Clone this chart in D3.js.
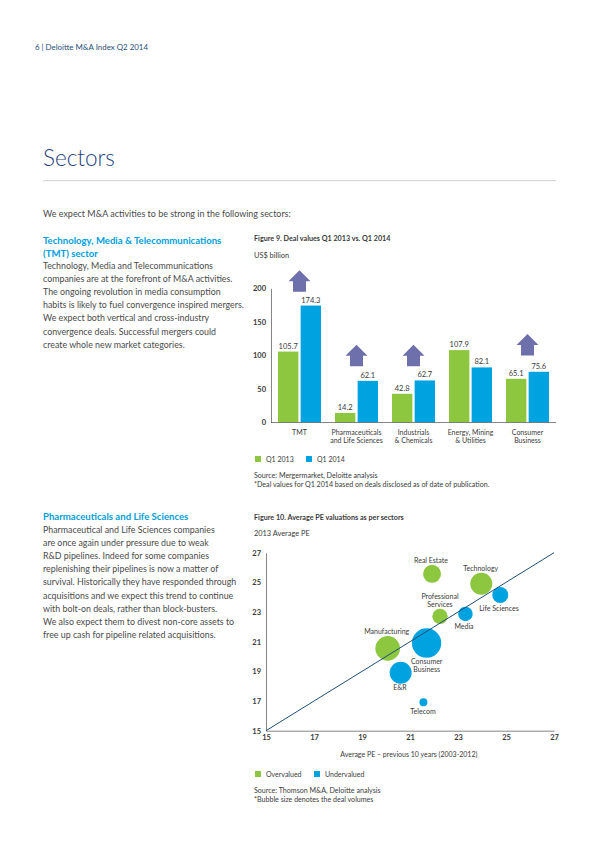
<!DOCTYPE html>
<html><head><meta charset="utf-8">
<script src="https://cdn.jsdelivr.net/npm/d3@7"></script>
<style>html,body{margin:0;padding:0;background:#fff}svg{display:block}text{font-family:Lato,sans-serif}</style>
</head><body><svg id="c" width="600" height="848"></svg>
<script>
const GREEN="#8dc63f",BLUE="#00a3e0",ARROW="#6e70ab",TXT="#3a3a3a",BODY="#4a4a4a",HEAD="#00a0dc",NAVY="#1f4e79";
const categories=[["TMT"],["Pharmaceuticals","and Life Sciences"],["Industrials","& Chemicals"],["Energy, Mining","& Utilities"],["Consumer","Business"]];
const q12013=[105.7,14.2,42.8,107.9,65.1];
const q12014=[174.3,62.1,62.7,82.1,75.6];
const arrowBase=[195,84,84,null,100];
const barTicks=[0,50,100,150,200];
const sectors=["Real Estate","Technology","Life Sciences","Professional Services","Media","Manufacturing","Consumer Business","E&R","Telecom"];
const avgPrev=[21.92,23.97,24.76,22.25,23.31,20.07,21.69,20.61,21.56];
const avg2013=[25.58,24.91,24.15,22.71,22.87,20.55,20.91,18.91,16.91];
const volume=[81,121,64,59,53,151,216,121,16];
const overvalued=[1,1,0,1,0,1,0,0,0];
const peTicks=[15,17,19,21,23,25,27];
const labelLines=[["Real Estate"],["Technology"],["Life Sciences"],["Professional","Services"],["Media"],["Manufacturing"],["Consumer","Business"],["E&R"],["Telecom"]];
const labelAt=[[431,562.5],[480.7,571],[499,610.7],[440,598.5],[464,629],[386.7,633.7],[426.7,664],[400,690],[423,713.7]];

const svg=d3.select("#c");
function T(x,y,s,o={}){return svg.append("text").attr("x",x).attr("y",y).text(s)
 .attr("font-size",o.size||8).attr("fill",o.fill||TXT).attr("font-weight",o.weight||400).attr("text-anchor",o.anchor||"start");}
function para(x,y,lh,lines,o){lines.forEach((l,i)=>T(x,y+i*lh,l,o));}

T(35,49.5,"6 | Deloitte M&A Index Q2 2014",{size:7.9,fill:NAVY});
T(43,166,"Sectors",{size:22.5,fill:"#1f3f7f",weight:300});
svg.append("line").attr("x1",43).attr("x2",556).attr("y1",180.7).attr("y2",180.7).attr("stroke","#bbb").attr("stroke-width",.7);
T(43,216.8,"We expect M&A activities to be strong in the following sectors:",{size:8.95,fill:BODY});
para(43,243.5,13,["Technology, Media & Telecommunications","(TMT) sector"],{size:9.6,fill:HEAD,weight:700});
para(43,269,13.1,["Technology, Media and Telecommunications","companies are at the forefront of M&A activities.","The ongoing revolution in media consumption","habits is likely to fuel convergence inspired mergers.","We expect both vertical and cross-industry","convergence deals. Successful mergers could","create whole new market categories."],{size:8.85,fill:BODY});
T(43,520,"Pharmaceuticals and Life Sciences",{size:9.6,fill:HEAD,weight:700});
para(43,533,13.1,["Pharmaceutical and Life Sciences companies","are once again under pressure due to weak","R&D pipelines. Indeed for some companies","replenishing their pipelines is now a matter of","survival. Historically they have responded through","acquisitions and we expect this trend to continue","with bolt-on deals, rather than block-busters.","We also expect them to divest non-core assets to","free up cash for pipeline related acquisitions."],{size:8.85,fill:BODY});

// Figure 9
T(254,241,"Figure 9. Deal values Q1 2013 vs. Q1 2014",{size:7.2,weight:700});
T(254,258,"US$ billion",{size:7.4});
const x0=d3.scaleBand().domain(d3.range(categories.length)).range([271,556]);
const xIn=d3.scaleBand().domain([0,1]).range([-21.5,21.5]).paddingInner(0.1);
const y9=d3.scaleLinear().domain([0,200]).range([422.5,288.3]);
const g9=svg.append("g");
[[q12013,GREEN,0],[q12014,BLUE,1]].forEach(([vals,col,k])=>{
 g9.selectAll(null).data(vals).join("rect")
  .attr("x",(d,i)=>x0(i)+x0.bandwidth()/2+xIn(k)).attr("width",xIn.bandwidth())
  .attr("y",d=>y9(d)).attr("height",d=>y9(0)-y9(d)).attr("fill",col);
 g9.selectAll(null).data(vals).join("text")
  .attr("x",(d,i)=>x0(i)+x0.bandwidth()/2+xIn(k)+xIn.bandwidth()/2).attr("y",d=>y9(d)-3)
  .attr("text-anchor","middle").attr("font-size",7.5).attr("fill",TXT).text(d=>d.toFixed(1));
});
const ax9=svg.append("g").attr("transform","translate(271,0)").call(d3.axisLeft(y9).tickValues(barTicks).tickSize(0).tickPadding(5));
ax9.selectAll("text").attr("font-size",7.5).attr("fill",TXT).attr("font-weight",700);
ax9.select(".domain").attr("stroke","#666").attr("stroke-width",.8);
svg.append("line").attr("x1",x0.range()[0]).attr("x2",x0.range()[1]).attr("y1",y9(0)).attr("y2",y9(0)).attr("stroke","#666").attr("stroke-width",.8);
categories.forEach((ls,i)=>ls.forEach((l,j)=>T(x0(i)+x0.bandwidth()/2,y9(0)+12+j*8.4,l,{size:7,anchor:"middle"})));
const aw=11,ah=21.5,head=11,sh=6.5;
arrowBase.forEach((b,i)=>{ if(b==null)return;
 const cx=x0(i)+x0.bandwidth()/2,by=y9(b);
 svg.append("polygon").attr("fill",ARROW).attr("points",[[cx-sh,by],[cx-sh,by-ah+head],[cx-aw,by-ah+head],[cx,by-ah],[cx+aw,by-ah+head],[cx+sh,by-ah+head],[cx+sh,by]].join(" "));
});
function legend(y,items){items.forEach(([name,col,x])=>{
 svg.append("rect").attr("x",x).attr("y",y-6).attr("width",6).attr("height",6).attr("fill",col);
 T(x+11,y,name,{size:7});});}
legend(462,[["Q1 2013",GREEN,255],["Q1 2014",BLUE,306]]);
para(254,478,8.6,["Source: Mergermarket, Deloitte analysis","*Deal values for Q1 2014 based on deals disclosed as of date of publication."],{size:7.1});

// Figure 10
T(254,520,"Figure 10. Average PE valuations as per sectors",{size:7.2,weight:700});
T(254,536,"2013 Average PE",{size:7.4});
const xs=d3.scaleLinear().domain([15,27]).range([266,554]);
const ys=d3.scaleLinear().domain([15,27]).range([730.7,552.7]);
const rs=d3.scaleSqrt().domain([0,216]).range([0,14.7]);
const axY=svg.append("g").attr("transform","translate(266,0)").call(d3.axisLeft(ys).tickValues(peTicks).tickSize(0).tickPadding(5));
axY.selectAll("text").attr("font-size",7.5).attr("fill",TXT).attr("font-weight",700);
axY.select(".domain").attr("stroke","#666").attr("stroke-width",.8);
const axX=svg.append("g").attr("transform","translate(0,730.7)").call(d3.axisBottom(xs).tickValues(peTicks).tickSize(0).tickPadding(4));
axX.selectAll("text").attr("font-size",7.5).attr("fill",TXT).attr("font-weight",700);
axX.select(".domain").attr("stroke","#666").attr("stroke-width",.8);
svg.selectAll(null).data(sectors).join("circle")
 .attr("cx",(d,i)=>xs(avgPrev[i])).attr("cy",(d,i)=>ys(avg2013[i])).attr("r",(d,i)=>rs(volume[i]))
 .attr("fill",(d,i)=>overvalued[i]?GREEN:BLUE);
svg.append("line").attr("x1",xs(15)).attr("y1",ys(15)).attr("x2",xs(27)).attr("y2",ys(27)).attr("stroke",NAVY).attr("stroke-width",1);
labelLines.forEach((ls,i)=>ls.forEach((l,j)=>T(labelAt[i][0],labelAt[i][1]+j*8.2,l,{size:7,anchor:"middle"})));
T(408.8,757,"Average PE – previous 10 years (2003-2012)",{size:7,anchor:"middle"});
legend(777,[["Overvalued",GREEN,255],["Undervalued",BLUE,314]]);
para(254,793,8.6,["Source: Thomson M&A, Deloitte analysis","*Bubble size denotes the deal volumes"],{size:7.1});
</script></body></html>
